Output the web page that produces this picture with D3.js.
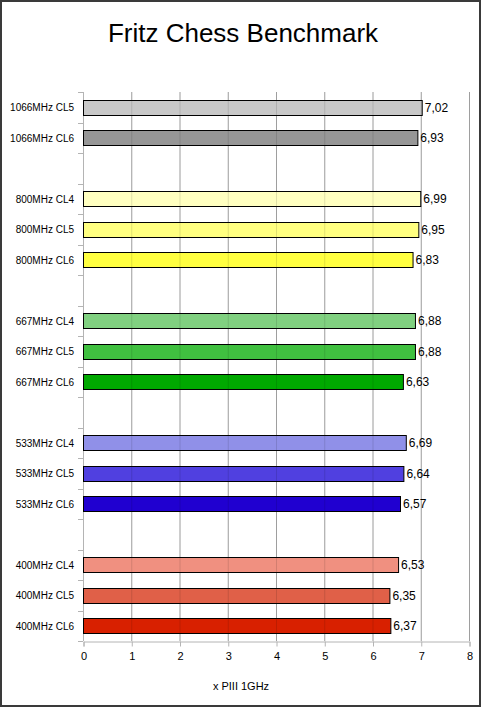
<!DOCTYPE html>
<html><head><meta charset="utf-8">
<script src="https://cdn.jsdelivr.net/npm/d3@7"></script>
<style>body{margin:0;background:#fff}svg{display:block}text{font-family:"Liberation Sans",Arial,sans-serif}</style>
</head><body>
<svg id="c" width="484" height="708"></svg>
<script>
const categories = ["1066MHz CL5","1066MHz CL6","gap1","800MHz CL4","800MHz CL5","800MHz CL6","gap2","667MHz CL4","667MHz CL5","667MHz CL6","gap3","533MHz CL4","533MHz CL5","533MHz CL6","gap4","400MHz CL4","400MHz CL5","400MHz CL6"];
const values = [7.02,6.93,null,6.99,6.95,6.83,null,6.88,6.88,6.63,null,6.69,6.64,6.57,null,6.53,6.35,6.37];
const colors = ["#c8c8c8","#969696",null,"#ffffc0","#ffff80","#ffff40",null,"#80d080","#40c040","#00a800",null,"#9090e8","#5040e0","#2000d0",null,"#f09080","#e06048","#d82000"];
const xTicks = [0,1,2,3,4,5,6,7,8];
const title = "Fritz Chess Benchmark";
const xTitle = "x PIII 1GHz";

(function(){
const svg = d3.select("#c");
const pl = 83, pr = 469, pt = 92, pb = 641;
const x = d3.scaleLinear().domain([0,8]).range([pl,pr]);
const y = d3.scaleBand().domain(categories).range([pt,pb]).paddingInner(0.5).paddingOuter(0.25);

svg.append("rect").attr("x",1).attr("y",1).attr("width",479).attr("height",705)
  .attr("fill","#fff").attr("stroke","#3a3a3a").attr("stroke-width",2);

svg.append("text").attr("x",243).attr("y",42).attr("text-anchor","middle")
  .attr("font-size",26).attr("fill","#000").text(title);

svg.append("g").selectAll("line").data(xTicks).join("line")
  .attr("x1",d=>x(d)+0.5).attr("x2",d=>x(d)+0.5).attr("y1",pt).attr("y2",pb)
  .attr("stroke","#b4b4b4").attr("stroke-width",1);

const step = y.step();
const yTickPos = d3.range(categories.length+1).map(i=>pt + i*step);
svg.append("g").selectAll("line").data(yTickPos).join("line")
  .attr("x1",pl-5).attr("x2",pl).attr("y1",d=>Math.round(d)+0.5).attr("y2",d=>Math.round(d)+0.5)
  .attr("stroke","#b4b4b4");

const data = categories.map((c,i)=>({c,v:values[i],col:colors[i]})).filter(d=>d.v!==null);

svg.append("g").selectAll("rect").data(data).join("rect")
  .attr("x",x(0)+0.5).attr("y",d=>Math.round(y(d.c))+0.5)
  .attr("width",d=>x(d.v)-x(0)).attr("height",Math.round(y.bandwidth()))
  .attr("fill",d=>d.col).attr("stroke","#000").attr("stroke-width",1);

svg.append("g").selectAll("line").data(xTicks.slice(1)).join("line")
  .attr("x1",d=>x(d)+0.5).attr("x2",d=>x(d)+0.5).attr("y1",pt).attr("y2",pb)
  .attr("stroke","#000").attr("stroke-opacity",0.12);

svg.append("g").selectAll("text").data(data).join("text")
  .attr("x",74).attr("y",d=>y(d.c)+y.bandwidth()/2+4).attr("text-anchor","end")
  .attr("font-size",10).attr("fill","#000").text(d=>d.c);

svg.append("g").selectAll("text").data(data).join("text")
  .attr("x",d=>x(d.v)+3).attr("y",d=>y(d.c)+y.bandwidth()/2+4.5)
  .attr("font-size",12).attr("fill","#000").text(d=>d3.format(".2f")(d.v).replace(".",","));

const xa = svg.append("g").attr("transform",`translate(0.5,${pb+0.5})`)
  .call(d3.axisBottom(x).tickValues(xTicks).tickSize(5).tickPadding(6));
xa.select(".domain").attr("stroke","#b4b4b4");
xa.selectAll(".tick line").attr("stroke","#b4b4b4");
xa.selectAll(".tick text").attr("font-size",11).attr("fill","#000").attr("font-family","Liberation Sans, Arial, sans-serif");

svg.append("text").attr("x",241).attr("y",690).attr("text-anchor","middle")
  .attr("font-size",11).attr("fill","#000").text(xTitle);
})();
</script>
</body></html>
